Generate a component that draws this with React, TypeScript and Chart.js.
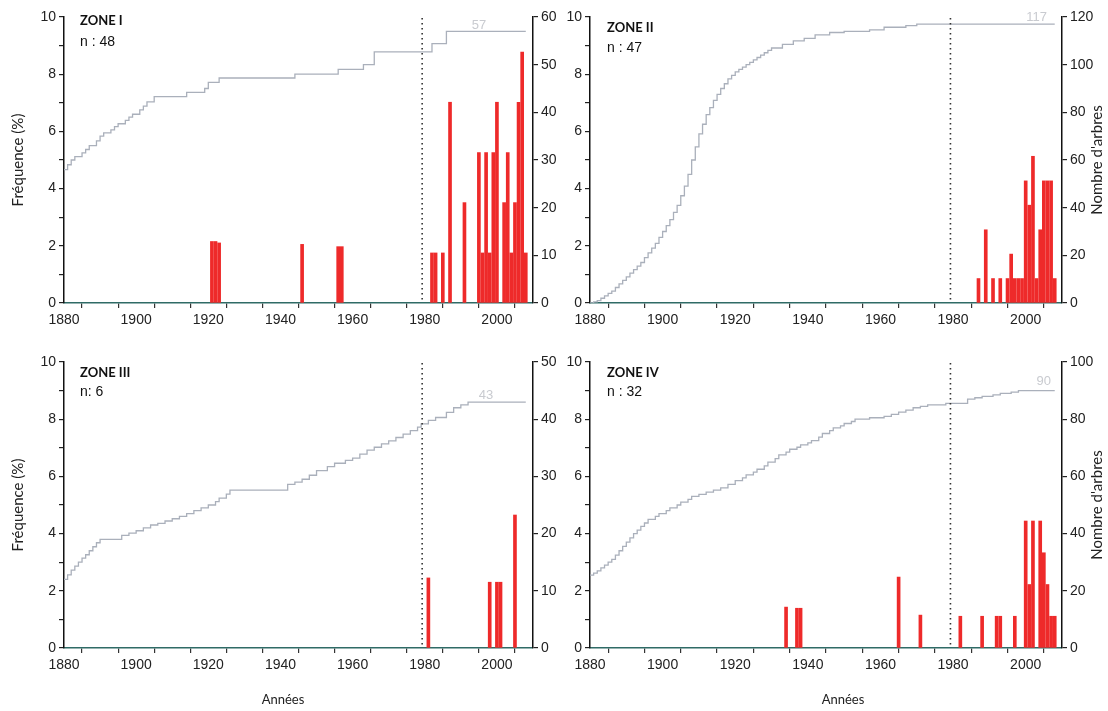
import React, { useEffect, useRef } from "react";
import { Chart, registerables } from "chart.js";
Chart.register(...registerables);

// ---------------- data ----------------
const yearMin = 1880;
const yearMax = 2010;
const yearTickLabels = [1880, 1900, 1920, 1940, 1960, 1980, 2000];
const freqTickLabels = [0, 2, 4, 6, 8, 10];
const cutoffYear = 1979;

// Zone I
const zone1BarYears = [1921, 1922, 1923, 1946, 1956, 1957, 1982, 1983, 1985, 1987, 1991, 1995, 1996, 1997, 1998, 1999, 2000, 2002, 2003, 2004, 2005, 2006, 2007, 2008];
const zone1BarValues = [2.15, 2.15, 2.1, 2.05, 1.97, 1.97, 1.75, 1.75, 1.75, 7.02, 3.51, 5.26, 1.75, 5.26, 1.75, 5.26, 7.02, 3.51, 5.26, 1.75, 3.51, 7.02, 8.77, 1.75];
const zone1LineYears = [1880, 1881, 1882, 1883, 1885, 1886, 1887, 1889, 1890, 1891, 1893, 1894, 1895, 1897, 1898, 1899, 1901, 1902, 1903, 1905, 1914, 1919, 1920, 1923, 1944, 1956, 1963, 1966, 1982, 1986, 2008];
const zone1LineValues = [28, 29, 30, 30.7, 31.5, 32.2, 33, 34, 35, 35.7, 36.3, 37, 37.6, 38.3, 39, 39.6, 40.5, 41.3, 42.2, 43.3, 44.2, 45, 46.3, 47.2, 48, 49, 50, 52.7, 54.4, 57, 57];
const zone1RightTicks = [0, 10, 20, 30, 40, 50, 60];

// Zone II
const zone2BarYears = [1987, 1989, 1991, 1993, 1995, 1996, 1997, 1998, 1999, 2000, 2001, 2002, 2003, 2004, 2005, 2006, 2007, 2008];
const zone2BarValues = [0.855, 2.56, 0.855, 0.855, 0.855, 1.71, 0.855, 0.855, 0.855, 4.27, 3.42, 5.13, 0.855, 2.56, 4.27, 4.27, 4.27, 0.855];
const zone2LineYears = [1880, 1881, 1882, 1883, 1884, 1885, 1886, 1887, 1888, 1889, 1890, 1891, 1892, 1893, 1894, 1895, 1896, 1897, 1898, 1899, 1900, 1901, 1902, 1903, 1904, 1905, 1906, 1907, 1908, 1909, 1910, 1911, 1912, 1913, 1914, 1915, 1916, 1917, 1918, 1919, 1920, 1921, 1922, 1923, 1924, 1925, 1926, 1927, 1928, 1929, 1930, 1933, 1936, 1939, 1942, 1946, 1950, 1957, 1961, 1967, 1970, 2008];
const zone2LineValues = [0, 0.5, 1, 2, 3, 4, 5, 6.5, 8, 9.5, 11, 12.5, 14, 15.5, 17, 19, 21, 23, 25, 27.5, 30, 32.5, 35, 38, 41, 45, 49, 54, 60, 65.5, 71, 75, 79, 82, 85, 87.5, 90, 92, 94, 95.5, 97, 98, 99, 100, 101, 102, 103, 104, 105, 106, 107, 108.5, 110, 111, 112.5, 113.5, 114, 114.6, 115.7, 116.4, 117, 117];
const zone2RightTicks = [0, 20, 40, 60, 80, 100, 120];

// Zone III
const zone3BarYears = [1981, 1998, 2000, 2001, 2005];
const zone3BarValues = [2.45, 2.3, 2.3, 2.3, 4.65];
const zone3LineYears = [1880, 1881, 1882, 1883, 1884, 1885, 1886, 1887, 1888, 1889, 1890, 1896, 1898, 1900, 1902, 1904, 1906, 1908, 1910, 1912, 1914, 1916, 1918, 1920, 1922, 1923, 1925, 1926, 1942, 1944, 1946, 1948, 1950, 1953, 1955, 1958, 1960, 1962, 1964, 1966, 1968, 1970, 1972, 1974, 1976, 1978, 1979, 1981, 1983, 1986, 1988, 1990, 1992, 2008];
const zone3LineValues = [12, 12.8, 13.6, 14.3, 15, 15.7, 16.3, 17, 17.7, 18.4, 19, 19.7, 20.1, 20.5, 21, 21.5, 21.8, 22.2, 22.6, 23, 23.5, 24, 24.5, 25, 25.6, 26.2, 26.9, 27.6, 28.6, 29, 29.5, 30.2, 31, 31.7, 32.3, 32.8, 33.2, 33.9, 34.6, 35.1, 35.7, 36.2, 36.8, 37.4, 38, 38.6, 39.2, 39.8, 40.3, 41.2, 42, 42.5, 43, 43];
const zone3RightTicks = [0, 10, 20, 30, 40, 50];

// Zone IV
const zone4BarYears = [1934, 1937, 1938, 1965, 1971, 1982, 1988, 1992, 1993, 1997, 2000, 2001, 2002, 2004, 2005, 2006, 2007, 2008];
const zone4BarValues = [1.43, 1.39, 1.39, 2.48, 1.15, 1.11, 1.11, 1.11, 1.11, 1.11, 4.44, 2.22, 4.44, 4.44, 3.33, 2.22, 1.11, 1.11];
const zone4LineYears = [1880, 1881, 1882, 1883, 1884, 1885, 1886, 1887, 1888, 1889, 1890, 1891, 1892, 1893, 1894, 1895, 1896, 1898, 1899, 1901, 1902, 1904, 1905, 1907, 1908, 1910, 1912, 1914, 1916, 1918, 1920, 1922, 1923, 1925, 1926, 1928, 1929, 1931, 1932, 1934, 1935, 1937, 1938, 1940, 1941, 1943, 1944, 1946, 1947, 1949, 1950, 1952, 1953, 1957, 1961, 1963, 1965, 1967, 1969, 1971, 1973, 1978, 1984, 1986, 1988, 1991, 1993, 1996, 1998, 2008];
const zone4LineValues = [25.5, 26.2, 27, 28, 29, 30, 31, 32.5, 34, 35.5, 37, 38.5, 40, 41.2, 42.5, 43.7, 45, 46, 47, 48, 49, 50, 51, 52, 53, 53.7, 54.5, 55.2, 56, 57.2, 58.5, 59.5, 60.5, 61.5, 62.5, 63.7, 65, 66.2, 67.5, 68.5, 69.5, 70.2, 71, 71.7, 72.5, 73.7, 75, 76, 77, 77.7, 78.5, 79.2, 80, 80.5, 81, 81.7, 82.5, 83.2, 84, 84.5, 85, 85.5, 87, 87.5, 88, 88.5, 89, 89.5, 90, 90];
const zone4RightTicks = [0, 20, 40, 60, 80, 100];

// ---------------- layout / style ----------------
const RED = "#ee2a2a";
const LINE = "#aab0bb";
const TICK_FONT = { family: "'Liberation Sans', Arial, sans-serif", size: 14 };
const LABEL_FONT = "Lato, 'Open Sans', sans-serif";

type PanelCfg = {
  left: number; top: number; w: number; h: number;
  leftW: number; rightW: number; padTop: number; xH: number;
  barYears: number[]; barValues: number[];
  lineYears: number[]; lineValues: number[]; rightTicks: number[];
  zone: string; n: string; zonePos: [number, number]; nPos: [number, number];
  maxText: string; maxYear: number; maxDy: number;
  leftTitle?: [number, number]; rightTitle?: [number, number]; xTitle?: [number, number];
};

const panels: PanelCfg[] = [
  {
    left: 0, top: 0, w: 560, h: 345, leftW: 64, rightW: 27, padTop: 17, xH: 42,
    barYears: zone1BarYears, barValues: zone1BarValues, lineYears: zone1LineYears, lineValues: zone1LineValues, rightTicks: zone1RightTicks,
    zone: "ZONE I", n: "n : 48", zonePos: [80, 21], nPos: [80, 42],
    maxText: "57", maxYear: 1995, maxDy: -6, leftTitle: [18, 160],
  },
  {
    left: 560, top: 0, w: 548, h: 345, leftW: 30, rightW: 46, padTop: 17, xH: 42,
    barYears: zone2BarYears, barValues: zone2BarValues, lineYears: zone2LineYears, lineValues: zone2LineValues, rightTicks: zone2RightTicks,
    zone: "ZONE II", n: "n : 47", zonePos: [47, 28], nPos: [47, 48],
    maxText: "117", maxYear: 2003, maxDy: -7, rightTitle: [537, 160],
  },
  {
    left: 0, top: 345, w: 560, h: 366, leftW: 64, rightW: 27, padTop: 17, xH: 63,
    barYears: zone3BarYears, barValues: zone3BarValues, lineYears: zone3LineYears, lineValues: zone3LineValues, rightTicks: zone3RightTicks,
    zone: "ZONE III", n: "n: 6", zonePos: [80, 28], nPos: [80, 47],
    maxText: "43", maxYear: 1997, maxDy: -7, leftTitle: [18, 160], xTitle: [283, 355],
  },
  {
    left: 560, top: 345, w: 548, h: 366, leftW: 30, rightW: 46, padTop: 17, xH: 63,
    barYears: zone4BarYears, barValues: zone4BarValues, lineYears: zone4LineYears, lineValues: zone4LineValues, rightTicks: zone4RightTicks,
    zone: "ZONE IV", n: "n : 32", zonePos: [47, 28], nPos: [47, 47],
    maxText: "90", maxYear: 2005, maxDy: -9, rightTitle: [537, 160], xTitle: [283, 355],
  },
];

const decorPlugin = {
  id: "decor",
  afterDatasetsDraw(chart: any, _args: any, opts: any) {
    const cfg: PanelCfg = opts.cfg;
    const { ctx, chartArea, scales } = chart;
    ctx.save();
    // dotted cutoff line
    const xc = scales.x.getPixelForValue(cutoffYear) + 1;
    ctx.strokeStyle = "#333";
    ctx.lineWidth = 1.6;
    ctx.setLineDash([1.4, 3.6]);
    ctx.beginPath();
    ctx.moveTo(xc, chartArea.top + 1);
    ctx.lineTo(xc, chartArea.bottom);
    ctx.stroke();
    ctx.setLineDash([]);
    // zone labels
    ctx.fillStyle = "#111";
    ctx.textBaseline = "middle";
    ctx.textAlign = "left";
    ctx.font = `bold 13px ${LABEL_FONT}`;
    ctx.fillText(cfg.zone, cfg.zonePos[0], cfg.zonePos[1]);
    ctx.font = "14px 'Liberation Sans', Arial, sans-serif";
    ctx.fillText(cfg.n, cfg.nPos[0], cfg.nPos[1]);
    // max label
    const lastVal = cfg.lineValues[cfg.lineValues.length - 1];
    ctx.fillStyle = "#c9cbd0";
    ctx.textAlign = "center";
    ctx.font = "13px 'Liberation Sans', Arial, sans-serif";
    ctx.fillText(cfg.maxText, scales.x.getPixelForValue(cfg.maxYear), scales.y2.getPixelForValue(lastVal) + cfg.maxDy);
    // axis titles
    ctx.fillStyle = "#222";
    const vt = (t: string, p: [number, number]) => {
      ctx.save();
      ctx.translate(p[0], p[1]);
      ctx.rotate(-Math.PI / 2);
      ctx.textAlign = "center";
      ctx.fillText(t, 0, 0);
      ctx.restore();
    };
    ctx.font = `15px ${LABEL_FONT}`;
    if (cfg.leftTitle) vt("Fréquence (%)", cfg.leftTitle);
    if (cfg.rightTitle) vt("Nombre d'arbres", cfg.rightTitle);
    ctx.font = `13px ${LABEL_FONT}`;
    if (cfg.xTitle) {
      ctx.textAlign = "center";
      ctx.fillText("Années", cfg.xTitle[0], cfg.xTitle[1]);
    }
    ctx.restore();
  },
};

function Panel({ cfg }: { cfg: PanelCfg }) {
  const ref = useRef<HTMLCanvasElement | null>(null);
  useEffect(() => {
    if (!ref.current) return;
    const rightMax = cfg.rightTicks[cfg.rightTicks.length - 1];
    const rightStep = cfg.rightTicks[1] - cfg.rightTicks[0];
    const chart = new Chart(ref.current, {
      type: "bar",
      data: {
        datasets: [
          {
            type: "line",
            data: cfg.lineYears.map((x, i) => ({ x, y: cfg.lineValues[i] })),
            yAxisID: "y2",
            borderColor: LINE,
            borderWidth: 1.3,
            pointRadius: 0,
            stepped: "before",
            fill: false,
            order: 0,
          } as any,
          {
            type: "bar",
            data: cfg.barYears.map((x, i) => ({ x, y: cfg.barValues[i] })),
            yAxisID: "y",
            backgroundColor: RED,
            borderWidth: 0,
            barThickness: 3,
            grouped: false,
            order: 1,
          } as any,
        ],
      },
      options: {
        animation: false,
        responsive: false,
        maintainAspectRatio: false,
        layout: { padding: { top: cfg.padTop, left: 0, right: 0, bottom: 0 } },
        plugins: {
          legend: { display: false },
          tooltip: { enabled: false },
          decor: { cfg },
        } as any,
        scales: {
          x: {
            type: "linear",
            min: yearMin,
            max: yearMax,
            offset: false,
            ticks: {
              stepSize: 10,
              autoSkip: false,
              maxRotation: 0,
              padding: 4,
              color: "#222",
              font: TICK_FONT,
              callback: (v: any) => (yearTickLabels.includes(Number(v)) ? String(v) : ""),
            },
            grid: { drawOnChartArea: false, drawTicks: true, tickLength: 5, color: "#333", lineWidth: 1.2 },
            border: { display: true, color: "#2f6b66", width: 1.5 },
            afterFit: (s: any) => { s.height = cfg.xH; },
          },
          y: {
            type: "linear",
            position: "left",
            min: 0,
            max: 10,
            ticks: {
              stepSize: 1,
              autoSkip: false,
              padding: 3,
              color: "#222",
              font: TICK_FONT,
              callback: (v: any) => (freqTickLabels.includes(Number(v)) ? String(v) : ""),
            },
            grid: { drawOnChartArea: false, drawTicks: true, tickLength: 5, color: "#222", lineWidth: 1.2 },
            border: { display: true, color: "#111", width: 1.5 },
            afterFit: (s: any) => { s.width = cfg.leftW; },
          },
          y2: {
            type: "linear",
            position: "right",
            min: 0,
            max: rightMax,
            ticks: {
              stepSize: rightStep,
              autoSkip: false,
              padding: 3,
              color: "#222",
              font: TICK_FONT,
              callback: (v: any) => (cfg.rightTicks.includes(Number(v)) ? String(v) : ""),
            },
            grid: { drawOnChartArea: false, drawTicks: true, tickLength: 5, color: "#222", lineWidth: 1.2 },
            border: { display: true, color: "#111", width: 1.5 },
            afterFit: (s: any) => { s.width = cfg.rightW; },
          },
        } as any,
      },
      plugins: [decorPlugin as any],
    });
    return () => chart.destroy();
  }, [cfg]);
  return (
    <canvas
      ref={ref}
      width={cfg.w}
      height={cfg.h}
      style={{ position: "absolute", left: cfg.left, top: cfg.top, width: cfg.w, height: cfg.h }}
    />
  );
}

export default function App() {
  return (
    <div style={{ position: "absolute", left: 0, top: 0, width: 1108, height: 711, background: "#fff", overflow: "hidden" }}>
      {panels.map((p, i) => (
        <Panel key={i} cfg={p} />
      ))}
    </div>
  );
}
